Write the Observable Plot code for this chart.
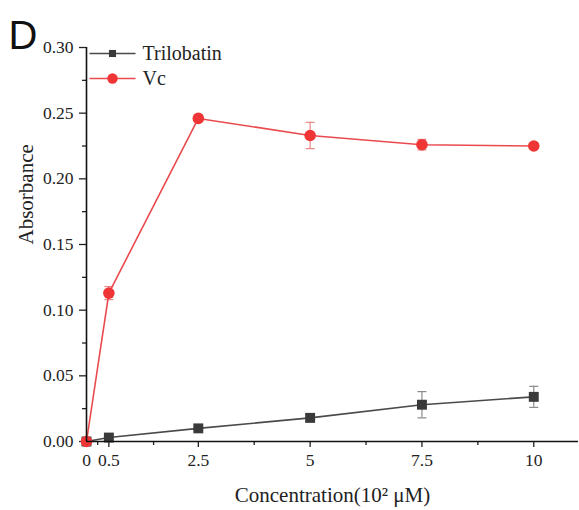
<!DOCTYPE html>
<html><head><meta charset="utf-8">
<script src="https://cdn.jsdelivr.net/npm/d3@7"></script>
<script src="https://cdn.jsdelivr.net/npm/@observablehq/plot@0.6"></script>
<style>body{margin:0;background:#fff;} #chart{position:relative;}</style>
</head><body><div id="chart"></div>
<script>
const concentrations = [0, 0.5, 2.5, 5, 7.5, 10];
const trilobatin = [0, 0.003, 0.010, 0.018, 0.028, 0.034];
const trilobatinErr = [0, 0.001, 0.001, 0.003, 0.010, 0.008];
const vc = [0, 0.113, 0.246, 0.233, 0.226, 0.225];
const vcErr = [0, 0.005, 0.001, 0.010, 0.004, 0.002];
const xTicks = [0, 0.5, 2.5, 5, 7.5, 10];
const xMinor = [0.25, 1.5, 3.75, 6.25, 8.75];
const yTicks = [0, 0.05, 0.10, 0.15, 0.20, 0.25, 0.30];
const yMinor = [0.025, 0.075, 0.125, 0.175, 0.225, 0.275];
const seriesNames = ["Trilobatin", "Vc"];

const colors = {Trilobatin: {line: "#4a4a4a", fill: "#3a3a3a", err: "#8a8a8a", symbol: "square", r: 5.6, lr: 4},
                Vc: {line: "#ea4a4e", fill: "#ef3535", err: "#e88888", symbol: "circle", r: 5.8, lr: 5.2}};

const rows = [];
concentrations.forEach((c, i) => {
  rows.push({series: "Trilobatin", x: c, y: trilobatin[i], e: trilobatinErr[i]});
  rows.push({series: "Vc", x: c, y: vc[i], e: vcErr[i]});
});

function hline(half) {
  return {draw(ctx) { ctx.moveTo(-half, 0); ctx.lineTo(half, 0); }};
}
const serif = "'Liberation Serif', 'Times New Roman', serif";

const seriesMarks = seriesNames.flatMap(s => {
  const c = colors[s];
  const data = rows.filter(d => d.series === s);
  const errs = data.filter(d => d.e > 0);
  return [
    Plot.ruleX(errs, {x: "x", y1: d => d.y - d.e, y2: d => d.y + d.e, stroke: c.err, strokeWidth: 1.2}),
    Plot.dot(errs, {x: "x", y: d => d.y - d.e, symbol: hline(4.5), stroke: c.err, strokeWidth: 1.2}),
    Plot.dot(errs, {x: "x", y: d => d.y + d.e, symbol: hline(4.5), stroke: c.err, strokeWidth: 1.2}),
    Plot.line(data, {x: "x", y: "y", stroke: c.line, strokeWidth: 1.6}),
    Plot.dot(data, {x: "x", y: "y", symbol: c.symbol, r: c.r, fill: c.fill, stroke: "none"})
  ];
});

const legendMarks = seriesNames.flatMap((s, i) => {
  const c = colors[s];
  const dy = 6 + i * 25;
  return [
    Plot.dot([s], {frameAnchor: "top-left", dx: 26, dy, symbol: hline(23), stroke: c.line, strokeWidth: 1.5}),
    Plot.dot([s], {frameAnchor: "top-left", dx: 26, dy, symbol: c.symbol, r: c.lr, fill: c.fill, stroke: "none"}),
    Plot.text([s], {frameAnchor: "top-left", dx: 56, dy, text: d => d, textAnchor: "start", lineAnchor: "middle", fontSize: 20, fill: "#222"})
  ];
});

const plot = Plot.plot({
  width: 579, height: 510,
  marginLeft: 86, marginRight: 1, marginTop: 47, marginBottom: 69,
  style: {fontFamily: serif, fontSize: "17px", color: "#222", background: "#fff"},
  x: {domain: [0, 11]},
  y: {domain: [0, 0.30]},
  marks: [
    Plot.axisX({ticks: xTicks, tickFormat: d => String(d), tickSize: 6, tickPadding: 6, fontSize: 17.5, label: null, strokeWidth: 1.3}),
    Plot.axisX({ticks: xMinor, tickFormat: () => "", tickSize: 4, label: null, strokeWidth: 1.3}),
    Plot.axisY({ticks: yTicks, tickFormat: d => d.toFixed(2), tickSize: 7, tickPadding: 6, fontSize: 17.5, label: null, strokeWidth: 1.3}),
    Plot.axisY({ticks: yMinor, tickFormat: () => "", tickSize: 4, label: null, strokeWidth: 1.3}),
    Plot.text(["Concentration(10² μM)"], {frameAnchor: "bottom", dy: 60, fontSize: 21, fill: "#222", lineAnchor: "bottom"}),
    Plot.text(["Absorbance"], {frameAnchor: "left", dx: -60, rotate: -90, fontSize: 21, fill: "#222"}),
    Plot.text(["D"], {frameAnchor: "top-left", dx: -78, dy: 1, textAnchor: "start", lineAnchor: "bottom", fontSize: 40, fontFamily: "'Liberation Sans', Arial, sans-serif", fill: "#111"}),
    ...seriesMarks,
    Plot.ruleY([0], {stroke: "#111", strokeWidth: 1.6}),
    Plot.ruleX([0], {stroke: "#111", strokeWidth: 1.6}),
    ...legendMarks
  ]
});
document.getElementById("chart").appendChild(plot);
</script></body></html>
